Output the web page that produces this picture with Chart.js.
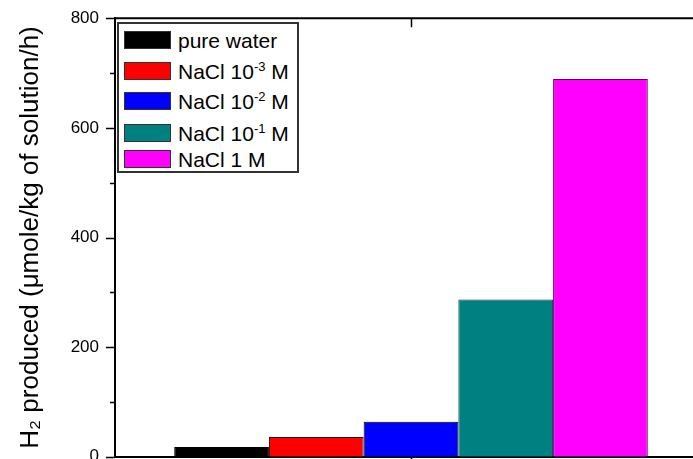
<!DOCTYPE html>
<html>
<head>
<meta charset="utf-8">
<script src="https://cdn.jsdelivr.net/npm/chart.js@4.4.0/dist/chart.umd.min.js"></script>
<style>
  body { margin: 0; overflow: hidden; background: #fff; font-family: Arial, "Liberation Sans", sans-serif; }
  #wrap { position: relative; width: 735px; height: 475px; overflow: hidden; }
  #legendBox { position: absolute; left: 117px; top: 22px; width: 178px; height: 147px; border: 2px solid #333; background: #fff; }
  .sw { position: absolute; left: 124px; width: 45px; height: 16px; border: 1px solid #333; }
  .lbl { position: absolute; left: 178px; font-size: 21px; line-height: 21px; white-space: nowrap; color: #000; }
  .lbl sup { font-size: 13px; line-height: 0; vertical-align: 0; position: relative; top: -8px; }
</style>
</head>
<body>
<div id="wrap">
  <canvas id="chart"></canvas>
  <div id="legendBox"></div>
</div>
<script>
"use strict";

const categories = [""];
const seriesNames = ["pure water", "NaCl 10<sup>-3</sup> M", "NaCl 10<sup>-2</sup> M", "NaCl 10<sup>-1</sup> M", "NaCl 1 M"];
const seriesValues = [18, 36, 64, 287, 689];
const seriesColors = ["#000000", "#ff0000", "#0000ff", "#008080", "#ff00ff"];
const seriesBorders = ["#000000", "#300000", "#000000", "#004040", "#600060"];
const yTicks = [0, 200, 400, 600, 800];
const legendCenters = [39.5, 70.5, 101, 132.5, 159];

const datasets = [];
for (let i = 0; i < seriesValues.length; i++) {
  datasets.push({
    label: seriesNames[i].replace(/<[^>]+>/g, ""),
    data: [seriesValues[i]],
    backgroundColor: seriesColors[i],
    borderColor: seriesBorders[i],
    borderWidth: 1,
    barPercentage: 1,
    categoryPercentage: 0.8
  });
}

// frame line on top plus the small ticks, placed with the chart's scales
const frameTicks = {
  id: "frameTicks",
  afterDraw(chart) {
    const ctx = chart.ctx;
    const area = chart.chartArea;
    const y = chart.scales.y;
    const x = chart.scales.x;
    ctx.save();
    ctx.strokeStyle = "#000";
    ctx.lineWidth = 2;
    ctx.beginPath();
    ctx.moveTo(area.left - 1, area.top);
    ctx.lineTo(area.right, area.top);
    ctx.stroke();
    ctx.lineWidth = 1.5;
    for (let v = 0; v <= 800; v += 100) {
      const py = Math.round(y.getPixelForValue(v)) + 0.5;
      const len = yTicks.includes(v) ? 9 : 5;
      ctx.beginPath();
      ctx.moveTo(area.left - len, py);
      ctx.lineTo(area.left, py);
      ctx.stroke();
    }
    const cx = Math.round(x.getPixelForValue(0)) + 0.5;
    ctx.beginPath();
    ctx.moveTo(cx, area.top);
    ctx.lineTo(cx, area.top + 9);
    ctx.moveTo(cx, area.bottom);
    ctx.lineTo(cx, area.bottom + 9);
    ctx.stroke();
    ctx.restore();
  }
};

const config = {
  type: "bar",
  data: { labels: categories, datasets: datasets },
  options: {
    responsive: true,
    maintainAspectRatio: false,
    animation: false,
    layout: { padding: { top: 18, right: 28, bottom: 2, left: 0 } },
    plugins: { legend: { display: false }, tooltip: { enabled: false } },
    scales: {
      x: {
        ticks: { display: false },
        grid: { display: false },
        border: { color: "#000", width: 2 },
        afterFit(s) { s.height = 0; }
      },
      y: {
        min: 0,
        max: 800,
        afterBuildTicks(s) { s.ticks = yTicks.map(v => ({ value: v })); },
        ticks: { color: "#000", padding: 8, font: { family: "Arial, 'Liberation Sans'", size: 17 } },
        grid: { display: false },
        border: { color: "#000", width: 2 },
        title: {
          display: true,
          text: "H\u2082 produced (\u03bcmole/kg of solution/h)",
          color: "#000",
          font: { family: "Arial, 'Liberation Sans'", size: 26 },
          padding: { top: 15, bottom: 0 }
        },
        afterFit(s) { s.width = 115; }
      }
    }
  },
  plugins: [frameTicks]
};

const chartCanvas = document.getElementById("chart");
const myChart = new Chart(chartCanvas, config);

const wrap = document.getElementById("wrap");
for (let i = 0; i < seriesNames.length; i++) {
  const sw = document.createElement("div");
  sw.className = "sw";
  sw.style.top = (legendCenters[i] - 9) + "px";
  sw.style.background = seriesColors[i];
  wrap.appendChild(sw);
  const lbl = document.createElement("div");
  lbl.className = "lbl";
  lbl.style.top = (legendCenters[i] - 10) + "px";
  lbl.innerHTML = seriesNames[i];
  wrap.appendChild(lbl);
}
</script>
</body>
</html>
